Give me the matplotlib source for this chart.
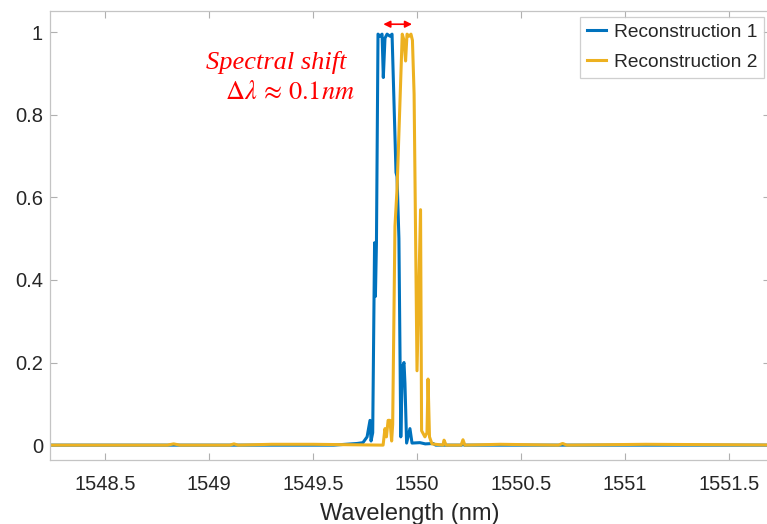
import matplotlib.pyplot as plt
from matplotlib.ticker import FuncFormatter

# reconstructed spectra (normalised intensity vs wavelength in nm)
WAVELENGTH_1 = [1548.20, 1548.80, 1549.30, 1549.60, 1549.712, 1549.74, 1549.76,
                1549.774, 1549.779, 1549.787, 1549.796, 1549.800, 1549.805,
                1549.8125, 1549.822, 1549.832, 1549.838, 1549.846, 1549.856,
                1549.870, 1549.880, 1549.899, 1549.904, 1549.913, 1549.922,
                1549.930, 1549.9375, 1549.942, 1549.950, 1549.966, 1549.976,
                1550.014, 1550.040, 1550.077, 1550.090, 1550.215, 1550.221,
                1550.227, 1550.60, 1551.20, 1551.80]
INTENSITY_1 = [0.000, 0.000, 0.000, 0.000, 0.004, 0.006, 0.020,
               0.060, 0.010, 0.030, 0.490, 0.360, 0.490,
               0.995, 0.990, 0.995, 0.890, 0.985, 0.995,
               0.990, 0.995, 0.660, 0.650, 0.500, 0.020,
               0.190, 0.200, 0.150, 0.005, 0.040, 0.005,
               0.006, 0.003, 0.004, 0.000, 0.000, 0.008,
               0.000, 0.000, 0.000, 0.000]

WAVELENGTH_2 = [1548.20, 1548.80, 1548.83, 1548.86, 1549.10, 1549.12, 1549.14,
                1549.30, 1549.50, 1549.837, 1549.846, 1549.853, 1549.861,
                1549.870, 1549.878, 1549.883, 1549.894, 1549.904, 1549.929,
                1549.9375, 1549.945, 1549.952, 1549.962, 1549.971, 1549.978,
                1549.986, 1550.000, 1550.017, 1550.022, 1550.038, 1550.048,
                1550.053, 1550.060, 1550.072, 1550.125, 1550.130, 1550.140,
                1550.212, 1550.221, 1550.230, 1550.40, 1550.68, 1550.70,
                1550.72, 1551.10, 1551.80]
INTENSITY_2 = [0.000, 0.000, 0.003, 0.000, 0.000, 0.003, 0.000,
               0.002, 0.002, 0.000, 0.040, 0.020, 0.060,
               0.060, 0.010, 0.050, 0.530, 0.620, 0.995,
               0.980, 0.930, 0.995, 0.990, 0.995, 0.980,
               0.850, 0.180, 0.570, 0.035, 0.020, 0.030,
               0.160, 0.020, 0.003, 0.000, 0.012, 0.000,
               0.000, 0.013, 0.000, 0.002, 0.000, 0.004,
               0.000, 0.002, 0.000]

LABELS = ['Reconstruction 1', 'Reconstruction 2']
COLORS = ['#0072BD', '#EDB120']
X_TICKS = [1548.5, 1549, 1549.5, 1550, 1550.5, 1551, 1551.5]
Y_TICKS = [0, 0.2, 0.4, 0.6, 0.8, 1]
SHIFT_ARROW = (1549.838, 1549.976)

plt.rcParams['font.family'] = ['Liberation Sans', 'DejaVu Sans']
plt.rcParams['mathtext.fontset'] = 'stix'

fig = plt.figure(figsize=(7.67, 5.24), dpi=100)
ax = fig.add_axes([50 / 767, 64 / 524, 720 / 767, 449 / 524])

ax.plot(WAVELENGTH_1, INTENSITY_1, color=COLORS[0], linewidth=2.2, label=LABELS[0])
ax.plot(WAVELENGTH_2, INTENSITY_2, color=COLORS[1], linewidth=2.2, label=LABELS[1])

ax.set_xlim(1548.2356, 1551.697)
ax.set_ylim(-0.036, 1.051)
ax.set_xticks(X_TICKS)
ax.set_yticks(Y_TICKS)
fmt = FuncFormatter(lambda v, pos: '%g' % v)
ax.xaxis.set_major_formatter(fmt)
ax.yaxis.set_major_formatter(fmt)

for side in ax.spines.values():
    side.set_color('#c4c4c4')
    side.set_linewidth(0.9)
ax.tick_params(direction='in', length=5, width=0.8, color='#b0b0b0',
               labelsize=14.5, labelcolor='#262626', top=True, right=True)
ax.tick_params(axis='x', pad=10.5)
ax.tick_params(axis='y', pad=5)
ax.set_xlabel('Wavelength (nm)', fontsize=17, color='#262626', labelpad=7)

# shift annotation
ax.annotate('', xy=(SHIFT_ARROW[1], 1.019), xytext=(SHIFT_ARROW[0], 1.019),
            arrowprops=dict(arrowstyle='<|-|>', color='red', lw=1.2,
                            mutation_scale=10, shrinkA=0, shrinkB=0))
ax.text(1549.663, 0.927, 'Spectral shift', color='red', fontsize=19,
        family='Liberation Serif', style='italic', ha='right', va='center')
ax.text(1549.702, 0.855, r'$\Delta\lambda\,\approx\,0.1nm$', color='red',
        fontsize=19, ha='right', va='center')

leg = ax.legend(loc='upper right', bbox_to_anchor=(764 / 767, 1 - 17 / 524),
                bbox_transform=fig.transFigure, fontsize=13.8, frameon=True,
                fancybox=False, handlelength=1.0, handletextpad=0.4,
                borderpad=0.35, labelspacing=0.65, borderaxespad=0)
leg.get_frame().set_edgecolor('#c4c4c4')
leg.get_frame().set_linewidth(0.9)
for t in leg.get_texts():
    t.set_color('#262626')

fig.savefig('out.png', dpi=100)
